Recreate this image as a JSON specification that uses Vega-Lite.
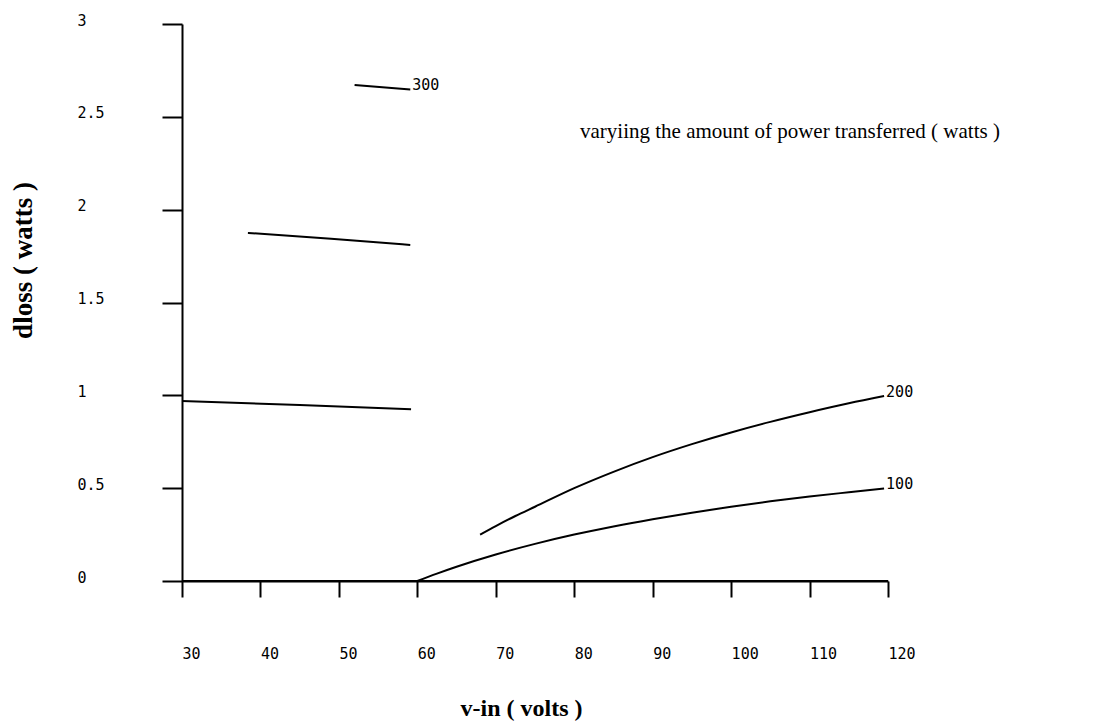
{
  "$schema": "https://vega.github.io/schema/vega-lite/v6.json",
  "autosize": {"type": "none"},
  "width": 706,
  "height": 557,
  "padding": {"left": 182, "top": 24, "right": 217, "bottom": 140},
  "background": "white",
  "config": {"view": {"stroke": null}},
  "datasets": {
    "curves": [
      {"series": "zero", "v": 30, "d": 0}, {"series": "zero", "v": 120, "d": 0},
      {"series": "low100", "v": 30, "d": 0.97}, {"series": "low100", "v": 45, "d": 0.948}, {"series": "low100", "v": 59.2, "d": 0.925},
      {"series": "low200", "v": 38.4, "d": 1.875}, {"series": "low200", "v": 49, "d": 1.843}, {"series": "low200", "v": 59.1, "d": 1.81},
      {"series": "low300", "v": 52, "d": 2.672}, {"series": "low300", "v": 59.1, "d": 2.647},
      {"series": "hi100", "v": 60, "d": 0}, {"series": "hi100", "v": 62.5, "d": 0.04}, {"series": "hi100", "v": 65, "d": 0.077}, {"series": "hi100", "v": 70, "d": 0.143}, {"series": "hi100", "v": 75, "d": 0.2}, {"series": "hi100", "v": 80, "d": 0.25}, {"series": "hi100", "v": 85, "d": 0.294}, {"series": "hi100", "v": 90, "d": 0.333}, {"series": "hi100", "v": 95, "d": 0.368}, {"series": "hi100", "v": 100, "d": 0.4}, {"series": "hi100", "v": 105, "d": 0.429}, {"series": "hi100", "v": 110, "d": 0.455}, {"series": "hi100", "v": 115, "d": 0.478}, {"series": "hi100", "v": 119.5, "d": 0.498},
      {"series": "hi200", "v": 68, "d": 0.25}, {"series": "hi200", "v": 70, "d": 0.296}, {"series": "hi200", "v": 72.5, "d": 0.35}, {"series": "hi200", "v": 75, "d": 0.4}, {"series": "hi200", "v": 80, "d": 0.5}, {"series": "hi200", "v": 85, "d": 0.588}, {"series": "hi200", "v": 90, "d": 0.667}, {"series": "hi200", "v": 95, "d": 0.737}, {"series": "hi200", "v": 100, "d": 0.8}, {"series": "hi200", "v": 105, "d": 0.857}, {"series": "hi200", "v": 110, "d": 0.909}, {"series": "hi200", "v": 115, "d": 0.957}, {"series": "hi200", "v": 119.5, "d": 0.996}
    ],
    "labels": [
      {"v": 59.1, "d": 2.67, "label": "300"},
      {"v": 119.5, "d": 1.02, "label": "200"},
      {"v": 119.5, "d": 0.52, "label": "100"}
    ],
    "note": [
      {"v": 107.5, "d": 2.42, "label": "varyiing the amount of power transferred ( watts )"}
    ]
  },
  "layer": [
    {
      "data": {"name": "curves"},
      "mark": {"type": "line", "color": "black", "strokeWidth": 2, "interpolate": "monotone"},
      "encoding": {
        "x": {
          "field": "v", "type": "quantitative",
          "scale": {"domain": [30, 120], "nice": false, "zero": false},
          "axis": {
            "values": [30, 40, 50, 60, 70, 80, 90, 100, 110, 120],
            "grid": false,
            "domainColor": "black", "domainWidth": 2,
            "tickColor": "black", "tickWidth": 2, "tickSize": 16,
            "labelFont": "DejaVu Sans Mono", "labelFontSize": 15, "labelColor": "black",
            "labelAlign": "left", "labelBaseline": "middle", "labelPadding": 56,
            "labelFlush": false, "labelOverlap": false,
            "title": "v-in ( volts )",
            "titleFont": "Liberation Serif", "titleFontSize": 24, "titleFontWeight": "bold", "titleColor": "black",
            "titleX": 339, "titleY": 127, "titleAlign": "center", "titleBaseline": "middle"
          }
        },
        "y": {
          "field": "d", "type": "quantitative",
          "scale": {"domain": [0, 3], "nice": false},
          "axis": {
            "values": [0, 0.5, 1, 1.5, 2, 2.5, 3],
            "format": "~g",
            "grid": false,
            "domainColor": "black", "domainWidth": 2,
            "tickColor": "black", "tickWidth": 2, "tickSize": 20,
            "labelFont": "DejaVu Sans Mono", "labelFontSize": 15, "labelColor": "black",
            "labelAlign": "left", "labelBaseline": "middle", "labelPadding": 85, "labelOffset": -4,
            "labelFlush": false, "labelOverlap": false,
            "title": "dloss ( watts )",
            "titleFont": "Liberation Serif", "titleFontSize": 27, "titleFontWeight": "bold", "titleColor": "black",
            "titleX": -159, "titleY": 236, "titleAngle": -90, "titleAlign": "center", "titleBaseline": "middle"
          }
        },
        "detail": {"field": "series", "type": "nominal"}
      }
    },
    {
      "data": {"name": "labels"},
      "mark": {"type": "text", "font": "DejaVu Sans Mono", "fontSize": 15, "color": "black", "align": "left", "baseline": "middle", "dx": 2},
      "encoding": {
        "x": {"field": "v", "type": "quantitative"},
        "y": {"field": "d", "type": "quantitative"},
        "text": {"field": "label"}
      }
    },
    {
      "data": {"name": "note"},
      "mark": {"type": "text", "font": "Liberation Serif", "fontSize": 21, "color": "black", "align": "center", "baseline": "middle"},
      "encoding": {
        "x": {"field": "v", "type": "quantitative"},
        "y": {"field": "d", "type": "quantitative"},
        "text": {"field": "label"}
      }
    }
  ]
}
